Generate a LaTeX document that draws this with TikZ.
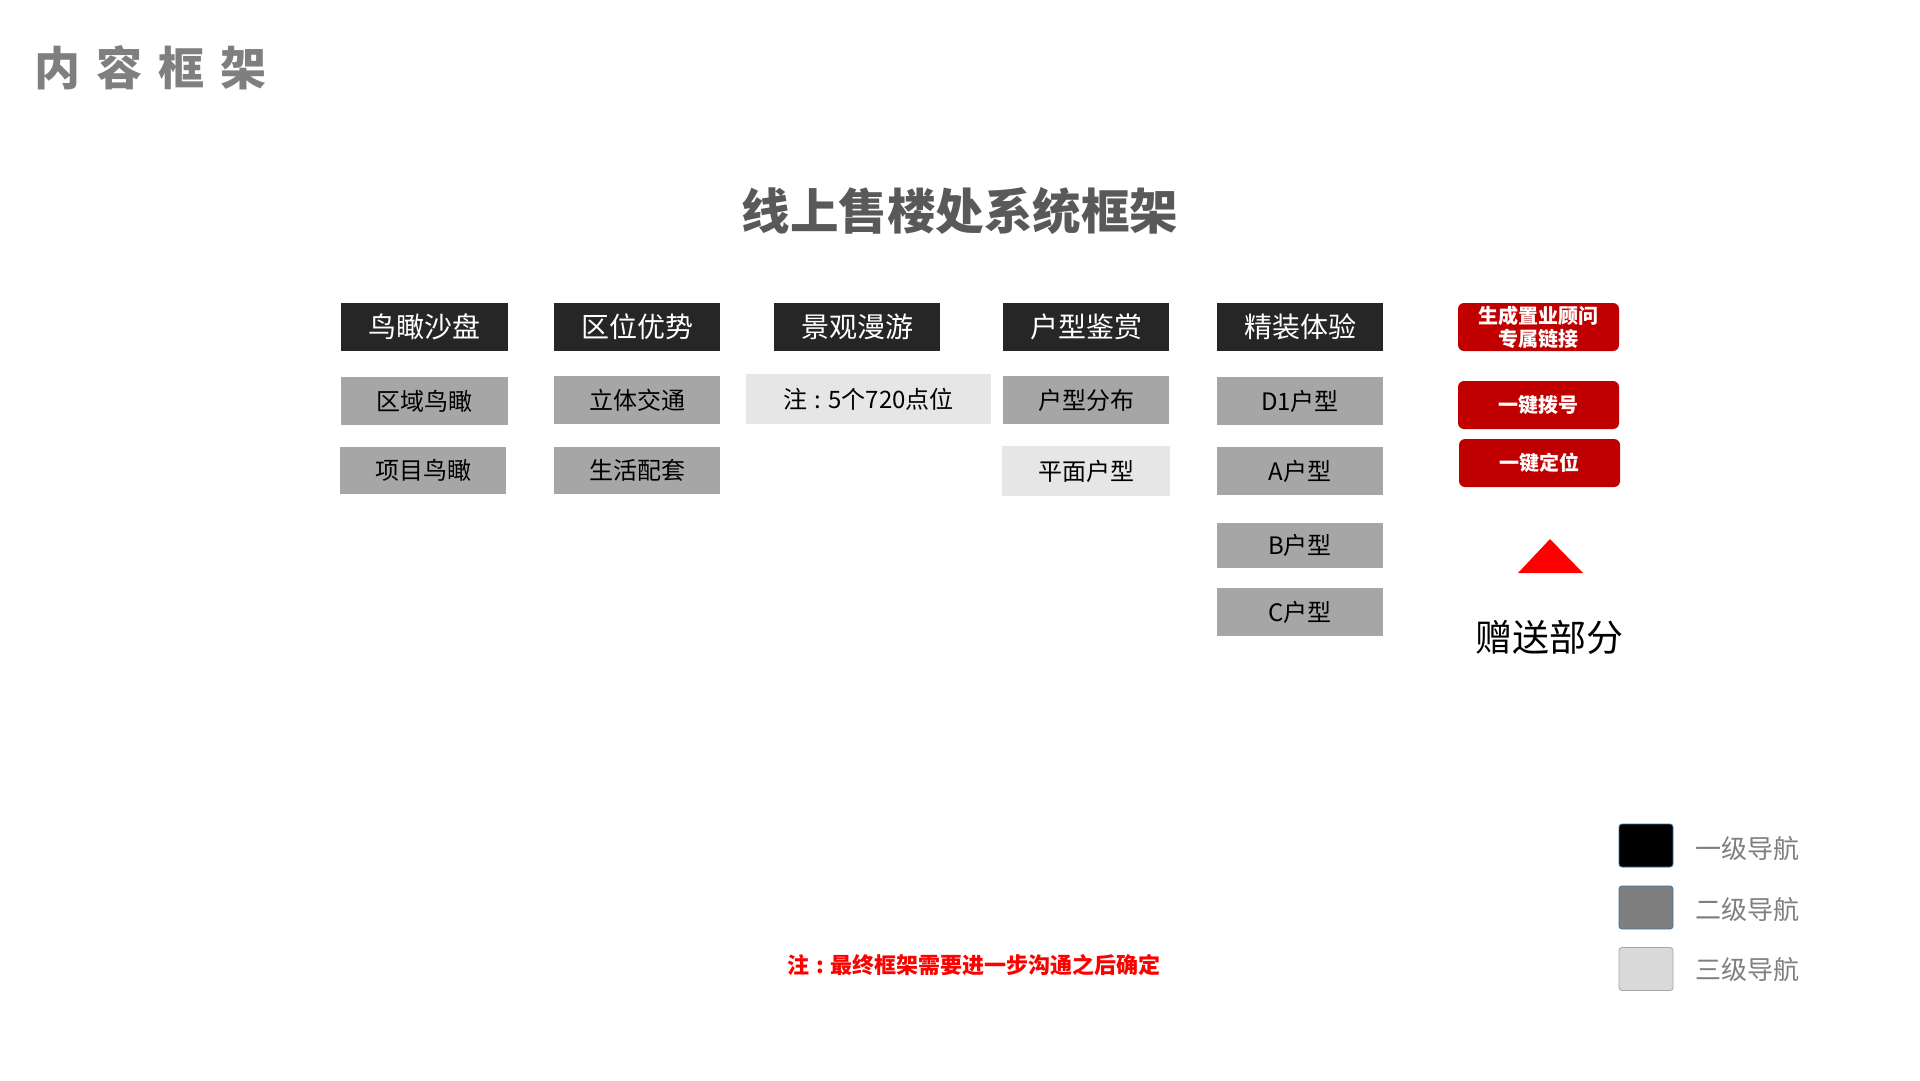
\documentclass[tikz,border=0pt]{standalone}
\usepackage{fontspec}
\setmainfont{Noto Sans CJK SC}
\usetikzlibrary{positioning}
\definecolor{navdark}{HTML}{262626}
\definecolor{navgray}{HTML}{A6A6A6}
\definecolor{navlight}{HTML}{E7E6E6}
\definecolor{navred}{HTML}{C00000}
\definecolor{brightred}{HTML}{FF0000}
\definecolor{titlegray}{HTML}{595959}
\definecolor{leggray}{HTML}{7F7F7F}
\definecolor{leglight}{HTML}{D9D9D9}
\definecolor{legborder}{HTML}{41719C}
\newcommand{\mycolon}{\hspace{0.3em}:\hspace{0.3em}}
\tikzset{
  navbox/.style={rectangle, inner sep=0pt, minimum width=166pt, minimum height=48pt},
  lvlone/.style={navbox, fill=navdark, text=white, font=\fontsize{28}{32}\selectfont},
  lvltwo/.style={navbox, fill=navgray, text=black, font=\fontsize{24}{28}\selectfont},
  lvlthree/.style={navbox, fill=navlight, text=black, font=\fontsize{24}{28}\selectfont},
  redbox/.style={rectangle, rounded corners=6pt, inner sep=0pt, minimum width=161pt, minimum height=48pt, fill=navred, text=white, font=\bfseries\fontsize{20}{23}\selectfont, align=center},
  legbox/.style={rectangle, rounded corners=3pt, inner sep=0pt, minimum width=54pt, minimum height=43pt, line width=0.8pt},
  legtext/.style={anchor=west, text=leggray, font=\fontsize{26}{30}\selectfont, inner sep=0pt}
}
\begin{document}
\begin{tikzpicture}[x=1pt,y=-1pt]
\useasboundingbox (0,0) rectangle (1920,1080);
% titles
\node[anchor=west, inner sep=0pt, text=leggray, font=\bfseries\fontsize{46}{50}\selectfont] (pagetitle) at (34,68) {内\hspace{16pt}容\hspace{16pt}框\hspace{16pt}架};
\node[inner sep=0pt, text=titlegray, font=\bfseries\fontsize{48.5}{52}\selectfont] (maintitle) at (960,211) {线上售楼处系统框架};
% level one
\node[lvlone, minimum width=167pt] (a1) at (424.5,327) {鸟瞰沙盘};
\node[lvlone] (b1) at (637,327) {区位优势};
\node[lvlone] (c1) at (857,327) {景观漫游};
\node[lvlone] (d1) at (1086,327) {户型鉴赏};
\node[lvlone] (e1) at (1300,327) {精装体验};
% column a
\node[lvltwo, minimum width=167pt] (a2) at (424.5,401) {区域鸟瞰};
\node[lvltwo, minimum height=47pt] (a3) at (423,470.5) {项目鸟瞰};
% column b
\node[lvltwo] (b2) at (637,400) {立体交通};
\node[lvltwo, minimum height=47pt] (b3) at (637,470.5) {生活配套};
% column c
\node[lvlthree, minimum width=245pt, minimum height=50pt] (c2) at (868.5,399) {注\mycolon 5个720点位};
% column d
\node[lvltwo] (d2) at (1086,400) {户型分布};
\node[lvlthree, minimum width=168pt, minimum height=50pt] (d3) at (1086,471) {平面户型};
% column e
\node[lvltwo] (e2) at (1300,401) {D1户型};
\node[lvltwo] (e3) at (1300,471) {A户型};
\node[lvltwo, minimum height=45pt] (e4) at (1300,545.5) {B户型};
\node[lvltwo] (e5) at (1300,612) {C户型};
% red extras
\node[redbox] (r1) at (1538.5,327) {生成置业顾问\\专属链接};
\node[redbox] (r2) at (1538.5,405) {一键拨号};
\node[redbox] (r3) at (1539.5,463) {一键定位};
\fill[brightred] (1518,573) -- (1550,539) -- (1583,573) -- cycle;
\node[inner sep=0pt, text=black, font=\fontsize{37}{42}\selectfont] (gift) at (1549,637) {赠送部分};
% note
\node[inner sep=0pt, text=brightred, font=\bfseries\fontsize{22}{25}\selectfont] (note) at (974,965) {注\mycolon 最终框架需要进一步沟通之后确定};
% legend
\node[legbox, fill=black, draw=legborder] (l1) at (1646,845.5) {};
\node[legbox, fill=leggray, draw=legborder] (l2) at (1646,907.5) {};
\node[legbox, fill=leglight, draw=navgray] (l3) at (1646,969) {};
\node[legtext] (t1) at (1695,849) {一级导航};
\node[legtext] (t2) at (1695,910) {二级导航};
\node[legtext] (t3) at (1695,970) {三级导航};
\end{tikzpicture}
\end{document}
